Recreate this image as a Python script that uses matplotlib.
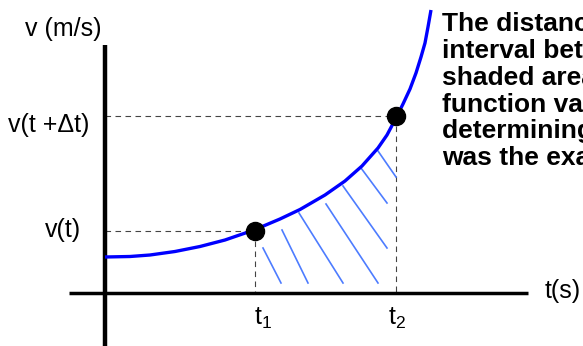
import matplotlib
matplotlib.use('Agg')
import matplotlib.pyplot as plt

plt.rcParams['font.family'] = ['Liberation Sans', 'DejaVu Sans']

curve_t = [0, 25, 45, 70, 95, 120, 149, 175, 195, 220, 240, 257, 273, 282,
           291, 298, 305, 311, 316, 320, 323, 326]
curve_v = [36, 36.5, 38, 41.5, 46.5, 53, 63, 74, 83.5, 98, 112, 127, 145, 158,
           175, 189, 204, 220, 236, 250, 266, 283]

# the two marked points
t_pts = [150, 291]
v_pts = [62.5, 177]

# hatch strokes under the curve: (t0, v0, t1, v1)
hatch = [
    (158, 45, 176, 10),
    (177, 63, 203, 10),
    (194, 80, 238, 10),
    (221, 89, 273, 10),
    (238, 107, 282, 45),
    (256, 125, 282, 90),
    (273, 142, 291, 116),
]

note = ("The distance traveled in the time\n"
        "interval between t1 and t2 is the\n"
        "shaded area. Knowing the\n"
        "function value at each instant,\n"
        "determining the distance\n"
        "was the exact integral.")

fig = plt.figure(figsize=(5.83, 3.46), dpi=100)
ax = fig.add_axes([0, 0, 1, 1])
ax.set_xlim(-105, 478)
ax.set_ylim(-53, 293)
ax.axis('off')

# the two axes
ax.plot([-36, 423], [0, 0], color='black', lw=2.5, solid_capstyle='butt', zorder=3)
ax.plot([0, 0], [-53, 248], color='black', lw=3.2, solid_capstyle='butt', zorder=3)

# hatch
for t0, v0, t1, v1 in hatch:
    ax.plot([t0, t1], [v0, v1], color='#4d7cff', lw=1.2, zorder=2)

# dashed guides
for t, v in zip(t_pts, v_pts):
    ax.plot([0, t], [v, v], color='#444444', lw=0.8, dashes=(5, 4), zorder=1)
    ax.plot([t, t], [v, 0], color='#444444', lw=0.8, dashes=(5, 4), zorder=1)

ax.plot(curve_t, curve_v, color='#0000ff', lw=2.4, zorder=4,
        solid_joinstyle='round', solid_capstyle='butt')
ax.plot(t_pts, v_pts, 'o', color='black', ms=13, zorder=5)

fs = 18
ax.text(-80, 257, 'v (m/s)', fontsize=fs, ha='left', va='baseline')
ax.text(-97, 161, 'v(t +\u0394t)', fontsize=fs, ha='left', va='baseline')
ax.text(-60, 56, 'v(t)', fontsize=fs, ha='left', va='baseline')
ax.text(158, -32, r'$\mathregular{t_1}$', fontsize=fs, ha='center', va='baseline')
ax.text(292, -32, r'$\mathregular{t_2}$', fontsize=fs, ha='center', va='baseline')
ax.text(440, -5, 't(s)', fontsize=fs, ha='left', va='baseline')

ax.text(337, 281, note, fontsize=19, fontweight='bold', ha='left', va='top',
        linespacing=1.15)

fig.savefig('out.png', dpi=100)
